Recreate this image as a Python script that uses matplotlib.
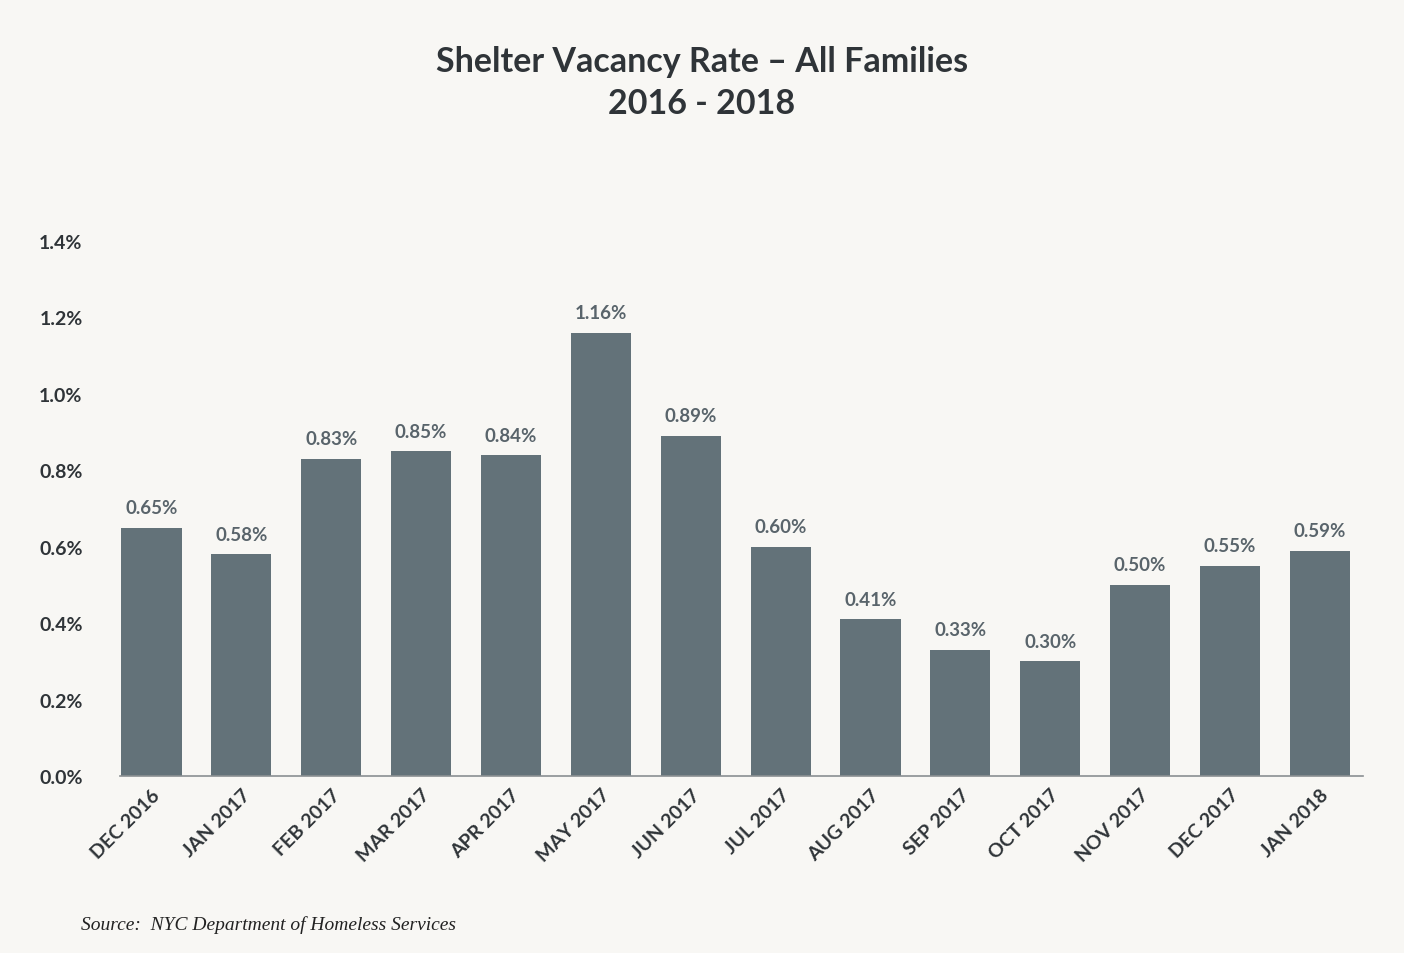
import matplotlib
matplotlib.use("Agg")
import matplotlib.pyplot as plt

months = ['DEC 2016', 'JAN 2017', 'FEB 2017', 'MAR 2017', 'APR 2017', 'MAY 2017', 'JUN 2017',
          'JUL 2017', 'AUG 2017', 'SEP 2017', 'OCT 2017', 'NOV 2017', 'DEC 2017', 'JAN 2018']
vacancy = [0.65, 0.58, 0.83, 0.85, 0.84, 1.16, 0.89, 0.60, 0.41, 0.33, 0.30, 0.50, 0.55, 0.59]
yticks = [0.0, 0.2, 0.4, 0.6, 0.8, 1.0, 1.2, 1.4]

bg = '#f8f7f4'
bar_col = '#637279'
dark = '#2f3438'

plt.rcParams['font.family'] = ['Lato', 'DejaVu Sans']

fig = plt.figure(figsize=(14.04, 9.54), dpi=100, facecolor=bg)
ax = fig.add_axes([0.0855, 0.1855, 0.8853, 0.5608], facecolor=bg)

x = list(range(len(months)))
ax.bar(x, vacancy, width=0.67, color=bar_col, zorder=2)
for xi, v in zip(x, vacancy):
    ax.text(xi, v + 0.03, f'{v:.2f}%', ha='center', va='bottom',
            fontsize=13.5, fontweight='bold', color='#59646b')

ax.set_xlim(-0.35, 13.48)
ax.set_ylim(0, 1.4)
ax.set_yticks(yticks)
ax.set_yticklabels([f'{t:.1f}%' for t in yticks], fontsize=14, fontweight='bold', color=dark)
ax.set_xticks(x)
ax.set_xticklabels(months, rotation=45, ha='right', rotation_mode='anchor',
                   fontsize=14, fontweight='bold', color=dark)
ax.tick_params(axis='both', length=0)
ax.tick_params(axis='y', pad=27)
ax.tick_params(axis='x', pad=7)

for s in ['top', 'right', 'left']:
    ax.spines[s].set_visible(False)
ax.spines['bottom'].set_color('#8a8f92')
ax.spines['bottom'].set_linewidth(1.2)

fig.text(0.5, 0.935, 'Shelter Vacancy Rate \u2013 All Families', ha='center', va='center',
         fontsize=24.5, fontweight='bold', color=dark)
fig.text(0.5, 0.891, '2016 - 2018', ha='center', va='center',
         fontsize=24.5, fontweight='bold', color=dark)
fig.text(0.058, 0.03, 'Source:  NYC Department of Homeless Services', ha='left', va='center',
         fontsize=14, style='italic', family='Liberation Serif', color='#222222')

fig.savefig('out.png', dpi=100, facecolor=bg)
